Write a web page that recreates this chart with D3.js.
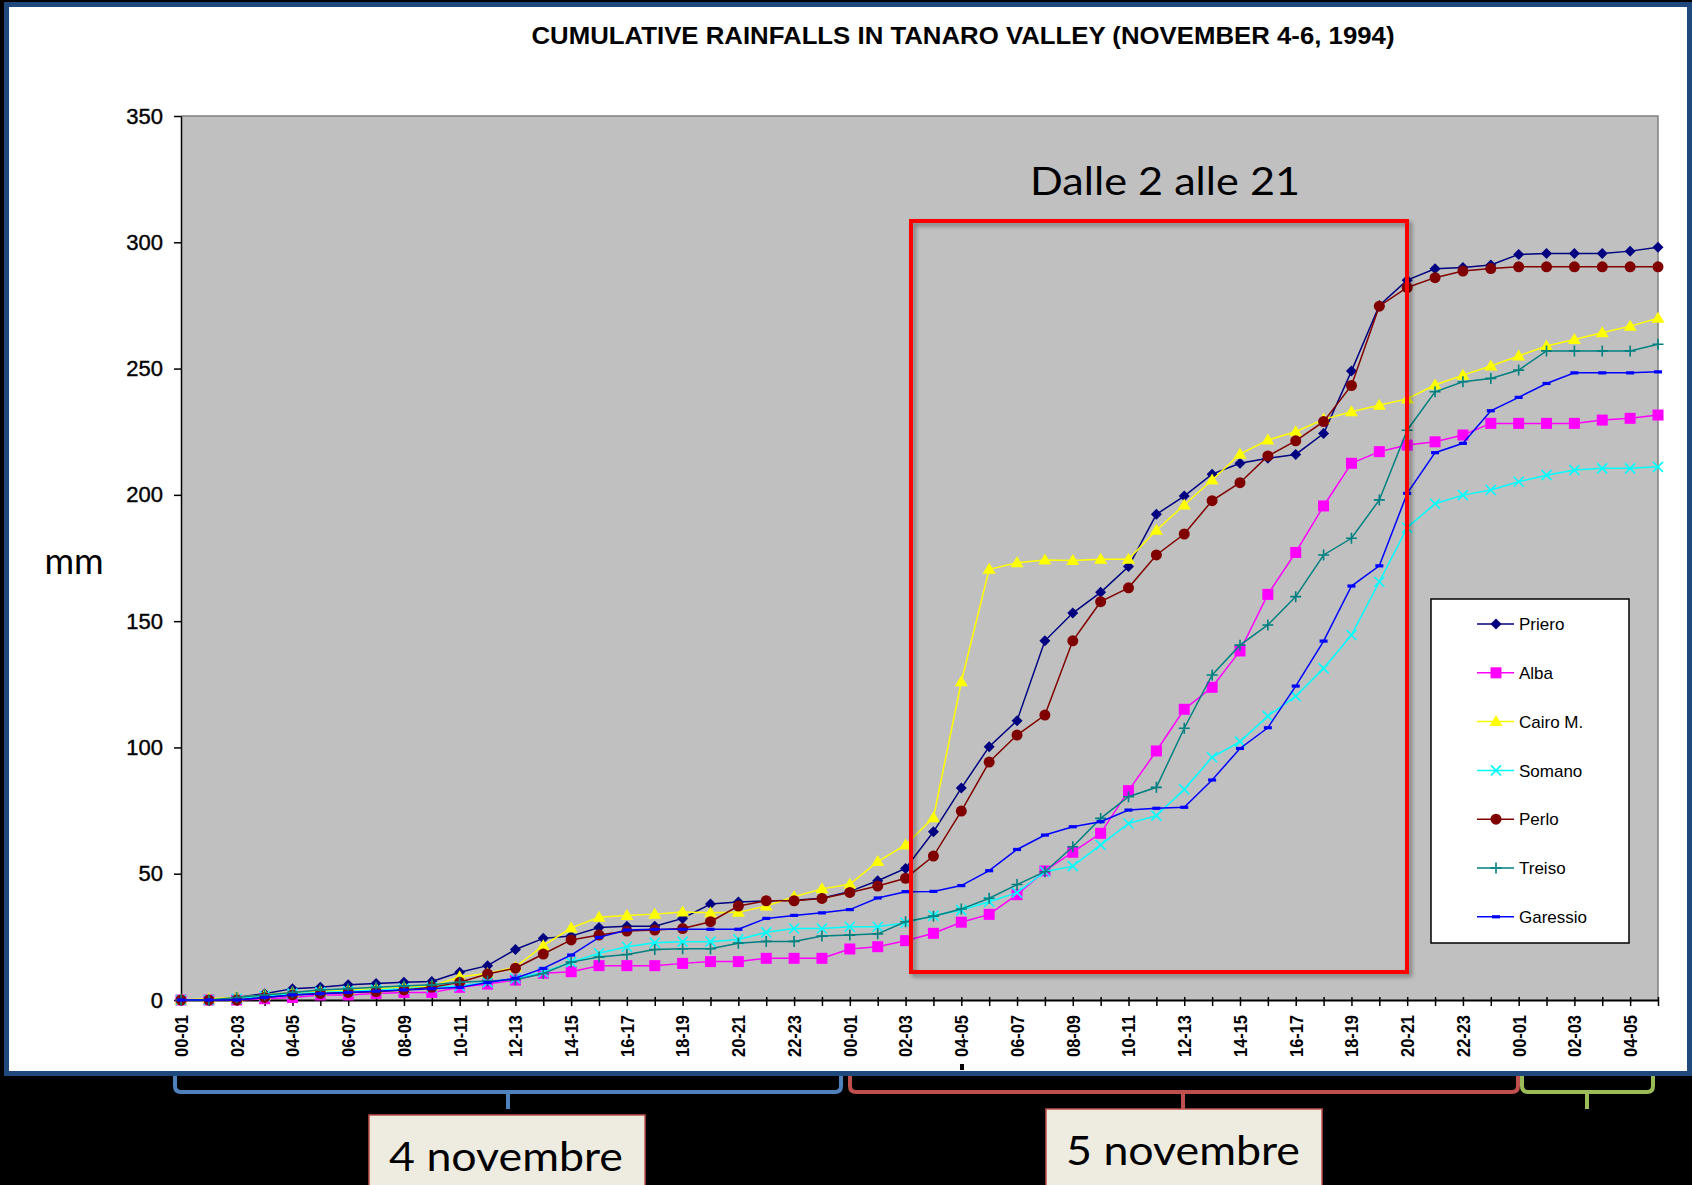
<!DOCTYPE html>
<html>
<head>
<meta charset="utf-8">
<script src="https://cdn.jsdelivr.net/npm/d3@7"></script>
<style>
body { margin: 0; background: #000; }
svg { display: block; }
text { font-family: "Liberation Sans", Arial, sans-serif; }
</style>
</head>
<body>
<script>
// hourly slots, 4 Nov 00-01 .. 6 Nov 05-06
var hourLabels = [
  "00-01","01-02","02-03","03-04","04-05","05-06","06-07","07-08","08-09","09-10","10-11","11-12",
  "12-13","13-14","14-15","15-16","16-17","17-18","18-19","19-20","20-21","21-22","22-23","23-24",
  "00-01","01-02","02-03","03-04","04-05","05-06","06-07","07-08","08-09","09-10","10-11","11-12",
  "12-13","13-14","14-15","15-16","16-17","17-18","18-19","19-20","20-21","21-22","22-23","23-24",
  "00-01","01-02","02-03","03-04","04-05","05-06"
];
var yTicks = [0, 50, 100, 150, 200, 250, 300, 350];

var stations = ["Priero", "Alba", "Cairo M.", "Somano", "Perlo", "Treiso", "Garessio"];

// cumulative rainfall, mm
var priero = [0,0,1,2.5,4.5,5,6,6.5,7,7.3, 11,13.6,20,24.4,25.3,28.7,29.2,29.2,32.3,38,
  38.8,39.2,39.5,40.3,43,47.2,52.1,66.6,83.9,100.3, 110.6,142.2,153.2,161.4,171.6,192.3,199.5,208.2,212.5,214.5,
  216,224.3,249,275,285,289.5,290,291,295.2,295.6, 295.6,295.6,296.5,298];
var alba = [0,0,0,0.5,1,2,2,2.6,3,3, 5,6.3,7.9,10.6,11.2,13.6,13.6,13.6,14.5,15.2,
  15.2,16.5,16.5,16.5,20.2,21.1,23.5,26.4,30.8,33.9, 41.7,51.1,58.5,66,82.9,98.6,115.1,123.8,138.2,160.6,
  177.2,195.6,212.5,217.1,219.7,221,223.7,228.3,228.3,228.3, 228.3,229.6,230.3,231.6];
var cairo = [0,0.5,1,2,3,3.5,4,4.5,5,5.5, 9.2,10.5,13,21.5,28.5,32.8,33.5,34,34.8,34.5,
  34.7,37.2,40.9,44,45.8,54.8,61.4,72.2,126,170.5, 173.1,174.2,174,174.5,174.5,186,196,205.9,216.1,221.7,
  225,229.9,232.9,235.5,238,243.5,247.4,251,255,258.9, 261.5,264.2,266.8,269.9];
var somano = [0,0,0.5,1.5,2.5,3,3.5,4,4.5,5, 5.5,7,8.5,11,15,18.5,21.1,22.7,23.1,23.1,
  24,26.8,28.3,28.3,29,29,30.6,33.4,35.6,38.9, 42.5,50.8,53,61.4,69.9,73,83.4,96.1,102.3,112.4,
  120.3,131.3,144.5,165.6,187,196.5,199.9,201.9,205.2,207.8, 209.8,210.5,210.5,211.1];
var perlo = [0,0,0,1,2,2.6,3,3.3,4,5, 7,10.3,12.6,18.2,23.8,25.7,27.3,27.7,28.3,31,
  37.2,39.3,39.3,40.2,42.6,45.1,48.2,57,74.8,94.2, 104.9,112.8,142.2,157.7,163.2,176.2,184.5,197.7,204.8,215.4,
  221.4,229,243.3,274.7,282.1,286,288.6,289.6,290.3,290.3, 290.3,290.3,290.3,290.3];
var treiso = [0,0,1,2,3,4,4.5,5,5.5,6, 7,7.5,8,10.5,15,17,18,20,20.3,20.3,
  22.5,23.2,23.2,25.3,25.7,26.2,31,33.2,36,40.3, 45.7,50.8,60.7,71.9,80.5,84.2,107.6,128.7,140.5,148.5,
  159.7,176.2,182.8,198,225.6,240.8,244.8,246.1,249.4,257, 257,257,257,259.6];
var garessio = [0,0,0,1,2,2.5,3,3.5,4,4.5, 5,6.9,8.6,12.5,17.8,24.8,27.7,28,28,28,
  28,32.3,33.5,34.5,35.8,40.4,42.9,43,45.3,51.2, 59.6,65.3,68.6,70.6,75.2,75.9,76.3,87.1,99.6,107.8,
  124.3,142.1,163.9,171.9,200.6,216.7,220.4,233.3,238.6,244.1, 248.3,248.3,248.3,248.7];

var dayLabels = ["4 novembre", "5 novembre"];

var seriesValues = [priero, alba, cairo, somano, perlo, treiso, garessio];
var seriesColors = ["#000080", "#ff00ff", "#ffff00", "#00ffff", "#800000", "#008080", "#0000ff"];
var seriesShapes = ["diamond", "square", "triangle", "cross", "circle", "plus", "dash"];

var width = 1692,
    height = 1185;

var svg = d3.select("body").append("svg")
  .attr("width", width)
  .attr("height", height);

var defs = svg.append("defs");
defs.append("filter").attr("id", "shadow")
  .attr("x", "-5%").attr("y", "-5%").attr("width", "110%").attr("height", "110%")
  .append("feDropShadow")
    .attr("dx", 3).attr("dy", 3).attr("stdDeviation", 2)
    .attr("flood-color", "#000").attr("flood-opacity", 0.35);

svg.append("rect").attr("width", width).attr("height", height).attr("fill", "#000");

// white slide panel with navy frame
svg.append("rect")
  .attr("x", 6.5).attr("y", 4.5)
  .attr("width", 1683).attr("height", 1069)
  .attr("fill", "#fff")
  .attr("stroke", "#1f497d")
  .attr("stroke-width", 5);

var plot = {left: 181, right: 1658, top: 116, bottom: 1000};

var x = d3.scalePoint()
  .domain(d3.range(hourLabels.length))
  .range([plot.left, plot.right]);

var y = d3.scaleLinear()
  .domain([0, 350])
  .range([plot.bottom, plot.top]);

// plot area
svg.append("rect")
  .attr("x", plot.left).attr("y", plot.top)
  .attr("width", plot.right - plot.left).attr("height", plot.bottom - plot.top)
  .attr("fill", "#c0c0c0");
svg.append("path")
  .attr("d", "M" + plot.left + "," + plot.top + "H" + plot.right + "V" + plot.bottom)
  .attr("fill", "none").attr("stroke", "#808080").attr("stroke-width", 1.5);

// title
svg.append("text")
  .attr("x", 963).attr("y", 44)
  .attr("text-anchor", "middle")
  .attr("font-size", 23).attr("font-weight", "bold")
  .attr("textLength", 863).attr("lengthAdjust", "spacingAndGlyphs")
  .text("CUMULATIVE RAINFALLS IN TANARO VALLEY (NOVEMBER 4-6, 1994)");

// y axis
var yAxis = svg.append("g")
  .attr("transform", "translate(" + plot.left + ",0)")
  .call(d3.axisLeft(y).tickValues(yTicks).tickSizeInner(7).tickSizeOuter(0).tickPadding(11));
yAxis.select(".domain").attr("stroke", "#000").attr("stroke-width", 1.5);
yAxis.selectAll(".tick line").attr("stroke", "#000").attr("stroke-width", 1.5);
yAxis.selectAll(".tick text")
  .attr("font-family", "'Liberation Sans', Arial, sans-serif")
  .attr("font-size", 22).attr("fill", "#000")
  .attr("stroke", "#000").attr("stroke-width", 0.4);

svg.append("text")
  .attr("x", 74).attr("y", 574)
  .attr("text-anchor", "middle")
  .style("font-family", "Lato, 'Open Sans', sans-serif")
  .attr("font-size", 36)
  .text("mm");

// x axis
var xAxis = svg.append("g")
  .attr("transform", "translate(0," + plot.bottom + ")")
  .call(d3.axisBottom(x).tickSizeInner(6).tickSizeOuter(0).tickFormat(""));
xAxis.select(".domain").attr("stroke", "#000").attr("stroke-width", 2);
xAxis.selectAll(".tick line").attr("y1", -3).attr("stroke", "#000").attr("stroke-width", 1.5);

svg.append("g").selectAll("text")
  .data(hourLabels.map(function(d, i) { return {label: d, i: i}; })
    .filter(function(d) { return d.i % 2 === 0; }))
  .enter()
.append("text")
  .attr("transform", function(d) { return "translate(" + x(d.i) + ",1015) rotate(-90)"; })
  .attr("text-anchor", "end")
  .attr("dy", "0.36em")
  .attr("font-size", 19).attr("font-weight", "bold")
  .attr("textLength", 42).attr("lengthAdjust", "spacingAndGlyphs")
  .text(function(d) { return d.label; });

// markers
function marker(g, shape, color) {
  if (shape == "diamond") {
    g.append("path").attr("d", "M0,-5.5L5.5,0L0,5.5L-5.5,0Z").attr("fill", color);
  } else if (shape == "square") {
    g.append("rect").attr("x", -5.5).attr("y", -5.5).attr("width", 11).attr("height", 11).attr("fill", color);
  } else if (shape == "triangle") {
    g.append("path").attr("d", "M0,-6.5L6.5,4.5L-6.5,4.5Z").attr("fill", color);
  } else if (shape == "cross") {
    g.append("path").attr("d", "M-5,-5L5,5M-5,5L5,-5").attr("stroke", color).attr("stroke-width", 1.6);
  } else if (shape == "circle") {
    g.append("circle").attr("r", 5.5).attr("fill", color);
  } else if (shape == "plus") {
    g.append("path").attr("d", "M-5.5,0H5.5M0,-5.5V5.5").attr("stroke", color).attr("stroke-width", 1.6);
  } else {
    g.append("rect").attr("x", -4).attr("y", -1.6).attr("width", 8).attr("height", 3.2).attr("fill", color);
  }
}

var line = d3.line()
  .x(function(d, i) { return x(i); })
  .y(function(d) { return y(d); });

seriesValues.forEach(function(vals, k) {
  var g = svg.append("g").attr("class", "series");
  g.append("path")
    .attr("d", line(vals))
    .attr("fill", "none")
    .attr("stroke", seriesColors[k])
    .attr("stroke-width", 1.5);
  g.selectAll("g")
    .data(vals)
    .enter()
  .append("g")
    .attr("transform", function(d, i) { return "translate(" + x(i) + "," + y(d) + ")"; })
    .each(function() { marker(d3.select(this), seriesShapes[k], seriesColors[k]); });
});

// highlighted window
svg.append("rect")
  .attr("x", 911).attr("y", 221)
  .attr("width", 496).attr("height", 751)
  .attr("fill", "none")
  .attr("stroke", "#ff0000")
  .attr("stroke-width", 4)
  .attr("filter", "url(#shadow)");

svg.append("text")
  .attr("x", 1165).attr("y", 195)
  .attr("text-anchor", "middle")
  .style("font-family", "Lato, 'Open Sans', sans-serif")
  .attr("font-size", 39)
  .attr("textLength", 270).attr("lengthAdjust", "spacingAndGlyphs")
  .text("Dalle 2 alle 21");

// legend
var legend = svg.append("g");
legend.append("rect")
  .attr("x", 1431).attr("y", 599).attr("width", 198).attr("height", 344)
  .attr("fill", "#fff").attr("stroke", "#000").attr("stroke-width", 1.5);

var item = legend.selectAll(".item")
  .data(stations)
  .enter()
.append("g")
  .attr("class", "item")
  .attr("transform", function(d, i) { return "translate(0," + (624 + i * 48.8) + ")"; });

item.append("line")
  .attr("x1", 1477).attr("x2", 1514)
  .attr("stroke", function(d, i) { return seriesColors[i]; })
  .attr("stroke-width", 1.5);
item.each(function(d, i) {
  marker(d3.select(this).append("g").attr("transform", "translate(1496,0)"), seriesShapes[i], seriesColors[i]);
});
item.append("text")
  .attr("x", 1519).attr("dy", "0.36em")
  .attr("font-size", 17)
  .text(function(d) { return d; });

// small mark below axis
svg.append("rect").attr("x", 960).attr("y", 1064).attr("width", 4).attr("height", 6).attr("fill", "#000");

// day brackets under the slide
function bracket(x1, x2, cx, color) {
  var y0 = 1076, y1 = 1092, y2 = 1109, r = 6;
  svg.append("path")
    .attr("d", "M" + x1 + "," + y0 + "V" + (y1 - r) + "Q" + x1 + "," + y1 + " " + (x1 + r) + "," + y1 +
      "H" + (x2 - r) + "Q" + x2 + "," + y1 + " " + x2 + "," + (y1 - r) + "V" + y0 +
      "M" + cx + "," + y1 + "V" + y2)
    .attr("fill", "none")
    .attr("stroke", color)
    .attr("stroke-width", 4);
}
bracket(175, 841, 508, "#4f81bd");
bracket(850, 1518, 1183, "#c0504d");
bracket(1522, 1653, 1587, "#9bbb59");

var boxes = [{x: 369, y: 1115, cx: 506, base: 1171}, {x: 1046, y: 1109, cx: 1183, base: 1165}];
dayLabels.forEach(function(lbl, i) {
  var b = boxes[i];
  svg.append("rect")
    .attr("x", b.x).attr("y", b.y).attr("width", 276).attr("height", 120)
    .attr("fill", "#eeece1").attr("stroke", "#c0504d").attr("stroke-width", 1.5);
  svg.append("text")
    .attr("x", b.cx).attr("y", b.base)
    .attr("text-anchor", "middle")
    .style("font-family", "Lato, 'Open Sans', sans-serif")
    .attr("font-size", 40)
    .attr("textLength", 234).attr("lengthAdjust", "spacingAndGlyphs")
    .text(lbl);
});
</script>
</body>
</html>
